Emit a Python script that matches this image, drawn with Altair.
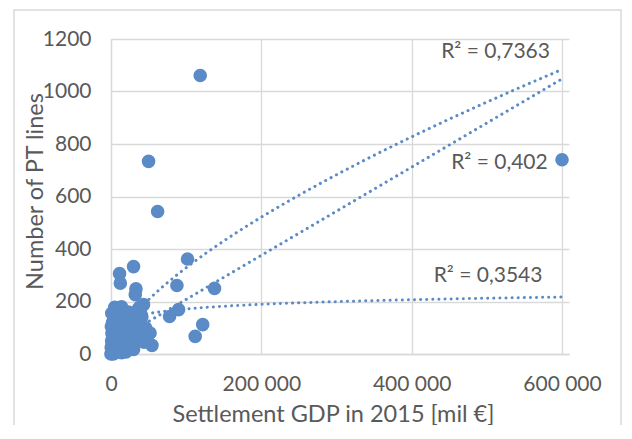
import altair as alt
import pandas as pd

# ---- data ----
gdp = [118700, 50000, 62000, 600000, 101800, 30000, 11400, 12400, 87700, 137700,
       33200, 32300, 43300, 89900, 77900, 122000, 112000, 54500, 52000, 45000,
       30000, 21000,
       0, 500, 1000, 1500, 300, 2000, 800, 2500, 3000, 1200, 4000, 500, 2000, 3500,
       1000, 6000, 9000, 5000, 7000, 8000, 10000, 11000, 12000, 13000, 15000, 14000,
       16000, 18000, 17000, 19000, 20000, 22000, 23000, 24000, 25000, 26000, 27000,
       28000, 29000, 31000, 33000, 34000, 35000, 37000, 38000, 40000, 41000, 42000,
       44000, 46000, 48000, 36000, 39000, 6000, 3000, 9000, 14000, 20000, 5000,
       14000, 38000]
pt_lines = [1061, 734, 543, 740, 362, 333, 306, 270, 261, 250,
            248, 226, 188, 169, 143, 112, 67, 33, 80, 62,
            17, 16,
            0, 3, 8, 15, 25, 35, 50, 48, 65, 80, 90, 105, 120, 140,
            155, 160, 150, 20, 40, 75, 110, 30, 90, 140, 165, 60,
            20, 100, 150, 45, 130, 75, 160, 110, 40, 140, 90,
            60, 120, 100, 150, 70, 130, 50, 110, 90, 140, 65,
            45, 100, 58, 170, 160, 5, 0, 10, 5, 8, 178,
            180, 178]

# trendline fit parameters (as printed by the reference's trendlines)
POWER_A, POWER_B = 0.1537, 0.666          # R² = 0,7363
LIN_SLOPE, LIN_INTERCEPT = 0.00168, 40    # R² = 0,402
LOG_A, LOG_B = 25.3, -119.6               # R² = 0,3543

r2_text = ["R² = 0,7363", "R² = 0,402", "R² = 0,3543"]
r2_gdp = [584000, 581000, 574000]
r2_lines = [1152, 729, 298]

x_ticks = [0, 200000, 400000, 600000]
y_ticks = [0, 200, 400, 600, 800, 1000, 1200]

BLUE = "#5b8bc6"
GREY = "#595959"
GRID = "#d9d9d9"
FONT = "Lato"

points = pd.DataFrame({"gdp": gdp, "lines": pt_lines})
labels = pd.DataFrame({"gdp": r2_gdp, "lines": r2_lines, "t": r2_text})

x_enc = alt.X("gdp:Q", title="Settlement GDP in 2015 [mil €]",
              scale=alt.Scale(domain=[0, 609300], nice=False),
              axis=alt.Axis(values=x_ticks, labelFlush=False,
                            labelExpr="datum.value == 0 ? '0' : format(datum.value/1000, 'd') + ' 000'",
                            titleX=222, titleY=67, titleBaseline="alphabetic"))
y_enc = alt.Y("lines:Q", title="Number of PT lines",
              scale=alt.Scale(domain=[0, 1200], nice=False),
              axis=alt.Axis(values=y_ticks, format="d", labelFlush=False,
                            titleX=-76, titleY=152, titleAngle=270,
                            titleAlign="center", titleBaseline="middle"))

seq = alt.sequence(2000, 600001, 2000, as_="gdp")
dot = dict(color=BLUE, strokeWidth=3, strokeDash=[0.1, 6], strokeCap="round")

power = alt.Chart(seq).transform_calculate(
    lines=f"{POWER_A} * pow(datum.gdp, {POWER_B})"
).mark_line(**dot).encode(x=x_enc, y=y_enc)
linear = alt.Chart(seq).transform_calculate(
    lines=f"{LIN_SLOPE} * datum.gdp + {LIN_INTERCEPT}"
).mark_line(**dot).encode(x=x_enc, y=y_enc)
logl = alt.Chart(seq).transform_calculate(
    lines=f"{LOG_A} * log(datum.gdp) + {LOG_B}"
).mark_line(**dot).encode(x=x_enc, y=y_enc)

pts = alt.Chart(points).mark_circle(size=185, color=BLUE, opacity=1).encode(x=x_enc, y=y_enc)

txt = alt.Chart(labels).mark_text(align="right", baseline="middle", font=FONT,
                                  fontSize=21, color=GREY).encode(x=x_enc, y=y_enc, text="t:N")

border = alt.Chart(pd.DataFrame({"a": [0]})).mark_rect(
    filled=False, stroke=GRID, strokeWidth=1.5
).encode(x=alt.value(-97), x2=alt.value(510), y=alt.value(-29), y2=alt.value(400))

chart = alt.layer(border, power, linear, logl, pts, txt).properties(
    width=458, height=315,
    autosize=alt.AutoSizeParams(type="none"),
    padding={"left": 103, "top": 31, "right": 53, "bottom": 71},
).configure_view(stroke="transparent").configure_axis(
    grid=True, gridColor=GRID, gridWidth=1.3,
    domainColor=GRID, domainWidth=1.3, ticks=False,
    labelFont=FONT, labelFontSize=21, labelColor=GREY,
    titleFont=FONT, titleFontSize=23.5, titleColor=GREY, titleFontWeight="normal",
).configure_axisX(labelPadding=19).configure_axisY(labelPadding=20)

chart.save("out.html", embed_options={"renderer": "svg", "actions": False})
